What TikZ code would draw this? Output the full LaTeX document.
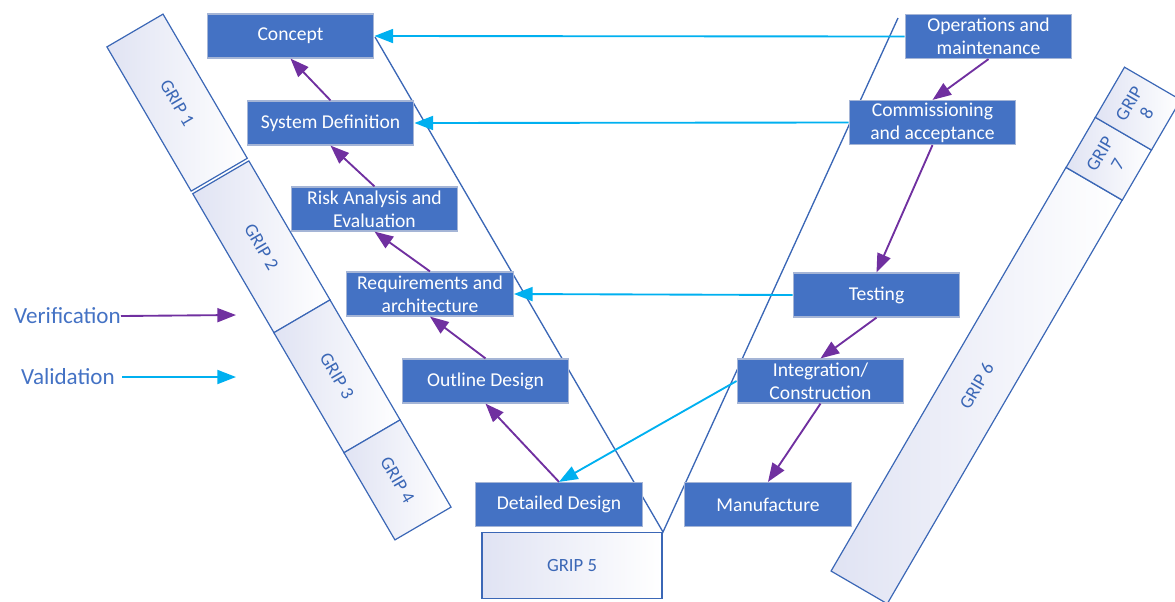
\documentclass[tikz,border=0pt]{standalone}
\usepackage{fontspec}
\setmainfont{Carlito}
\usetikzlibrary{arrows.meta}
\definecolor{stageblue}{HTML}{4472C4}
\definecolor{stageedge}{HTML}{A5B5D6}
\definecolor{vline}{HTML}{3B67B6}
\definecolor{verifpurple}{HTML}{7030A0}
\definecolor{validcyan}{HTML}{00B0F0}
\definecolor{gripshade}{HTML}{E0E3F3}

\begin{document}
\begin{tikzpicture}[x=0.75pt, y=0.75pt, >={Triangle[length=14pt, width=10.5pt]},
    stage/.style={rectangle, draw=stageedge, line width=0.9pt, fill=stageblue, text=white, minimum width=125pt, minimum height=33pt, inner sep=1pt, align=center, font=\fontsize{14.7}{17.3}\selectfont},
    grip/.style={rectangle, draw=vline, line width=0.9pt, left color=gripshade, right color=white, text=vline, inner sep=1pt, align=center, minimum height=48.75pt, font=\fontsize{14}{15.5}\selectfont},
    gripleft/.style={grip, rotate=-59.7},
    gripright/.style={grip, rotate=59.8},
    verif/.style={->, color=verifpurple, line width=1.4pt},
    valid/.style={->, color=validcyan, line width=1.4pt},
    legend/.style={text=stageblue, inner sep=0pt, font=\fontsize{17.3}{20}\selectfont}]
    \useasboundingbox (0,0) rectangle (1175,-601);
    \clip (0,0) rectangle (1175,-601);

    % GRIP bands
    \node[gripleft, minimum width=125.25pt] (grip1) at (177.1,-102.6) {GRIP 1};
    \node[gripleft, minimum width=120.75pt] (grip2) at (261.4,-246.8) {GRIP 2};
    \node[gripleft, minimum width=104.25pt] (grip3) at (337.0,-376.3) {GRIP 3};
    \node[gripleft, minimum width=75.75pt] (grip4) at (397.5,-479.9) {GRIP 4};
    \node[grip, minimum width=135pt, minimum height=50pt] (grip5) at (572,-565.5) {GRIP 5};
    \node[gripright, minimum width=350.25pt] (grip6) at (976.6,-385.6) {GRIP 6};
    \node[gripright, minimum width=43.5pt] (grip7) at (1108.8,-158.7) {GRIP\\7};
    \node[gripright, minimum width=43.5pt] (grip8) at (1138.0,-108.6) {GRIP\\8};

    % The V
    \coordinate (vleft) at (375,-37);
    \coordinate (vbottom) at (663,-532);
    \coordinate (vright) at (898,-18);
    \draw[vline, line width=1pt] (vleft) -- (vbottom) -- (vright);

    % Stages
    \node[stage] (concept) at (290.5,-36) {Concept};
    \node[stage] (sysdef) at (330.5,-123) {System Definition};
    \node[stage] (risk) at (374.5,-209) {Risk Analysis and\\Evaluation};
    \node[stage] (req) at (430,-294) {Requirements and\\architecture};
    \node[stage] (outline) at (485.5,-381) {Outline Design};
    \node[stage] (detail) at (559,-504.5) {Detailed Design};
    \node[stage] (manuf) at (768,-504.5) {Manufacture};
    \node[stage] (integ) at (820.5,-381) {Integration/\\Construction};
    \node[stage] (testing) at (876.5,-295) {Testing};
    \node[stage] (comm) at (932.5,-122.5) {Commissioning\\and acceptance};
    \node[stage] (ops) at (988.5,-36.5) {Operations and\\maintenance};

    % Verification arrows
    \path[verif]
    (sysdef.north) edge (concept.south)
    (risk.north) edge (sysdef.south)
    (req.north) edge (risk.south)
    (outline.north) edge (req.south)
    (detail.north) edge (outline.south)
    (ops.south) edge (comm.north)
    (comm.south) edge (testing.north)
    (testing.south) edge (integ.north)
    (integ.south) edge (manuf.north);

    % Validation arrows
    \path[valid]
    (ops.west) edge (concept.east)
    (comm.west) edge (sysdef.east)
    (testing.west) edge (req.east)
    (integ.west) edge (detail.north);

    % Legend
    \node[legend, anchor=east] (verification) at (121,-316) {Verification};
    \node[legend, anchor=east, inner xsep=5.25pt] (validation) at (122,-377) {Validation};
    \coordinate (verifend) at (236,-315);
    \coordinate (validend) at (236,-377);
    \path[verif] (verification.east) edge (verifend);
    \path[valid] (validation.east) edge (validend);
\end{tikzpicture}
\end{document}
